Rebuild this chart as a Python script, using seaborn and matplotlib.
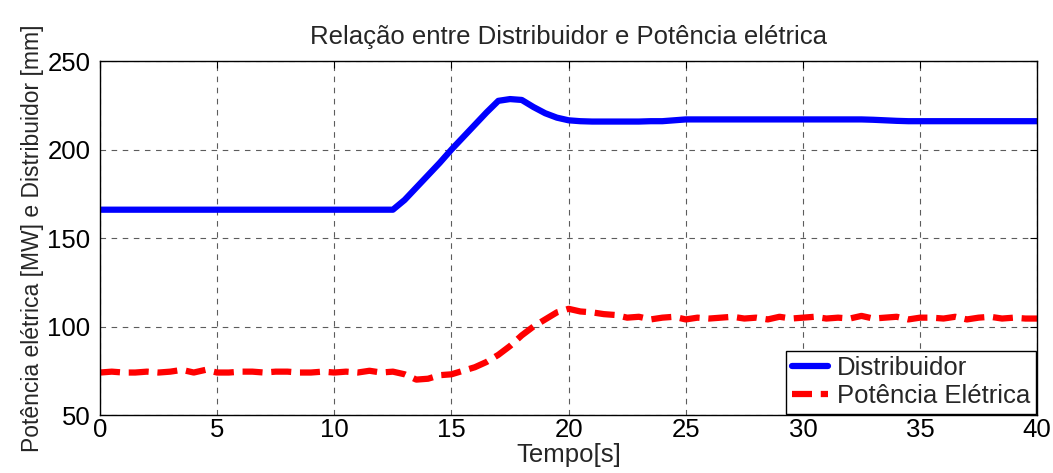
import numpy as np
import pandas as pd
import matplotlib
matplotlib.use("Agg")
import matplotlib.pyplot as plt
import seaborn as sns

# Time axis (s), sampled every 0.5 s
tempo = [i * 0.5 for i in range(81)]

# Guide-vane opening (Distribuidor) [mm]
distribuidor = [
    166, 166, 166, 166, 166, 166, 166, 166, 166, 166,        # 0.0 - 4.5
    166, 166, 166, 166, 166, 166, 166, 166, 166, 166,        # 5.0 - 9.5
    166, 166, 166, 166, 166, 166, 171.5, 178.5, 185.5, 192.5,  # 10.0 - 14.5
    200, 207, 214, 221, 227.5, 228.5, 228, 224, 220.5, 218,  # 15.0 - 19.5
    216.5, 216, 215.8, 215.8, 215.8, 215.8, 215.8, 216, 216, 216.5,  # 20.0 - 24.5
    217, 217, 217, 217, 217, 217, 217, 217, 217, 217,        # 25.0 - 29.5
    217, 217, 217, 217, 217, 217, 216.8, 216.5, 216.2, 216,  # 30.0 - 34.5
    216, 216, 216, 216, 216, 216, 216, 216, 216, 216,        # 35.0 - 39.5
    216,                                                     # 40.0
]

# Electrical power output [MW]
potencia = [
    74, 74.5, 74, 74, 74.5, 74, 74.5, 75.5, 74, 75.5,        # 0.0 - 4.5
    74, 74, 74.5, 74.5, 74, 74.5, 74.5, 74, 74, 74.5,        # 5.0 - 9.5
    74, 74.5, 74, 75, 74, 74.5, 73, 70, 70.5, 72.5,          # 10.0 - 14.5
    73, 75, 77, 80, 84, 89, 95, 100, 104, 108,               # 15.0 - 19.5
    110, 108.5, 108, 107, 106.5, 105, 105.5, 104, 105, 105.5,  # 20.0 - 24.5
    104, 105, 104.5, 105, 105.5, 104.5, 105, 104, 105.5, 104.5,  # 25.0 - 29.5
    105, 105.5, 104.5, 105, 104.5, 106, 104.5, 105, 105.5, 104,  # 30.0 - 34.5
    105, 105, 104.5, 105.5, 104, 105, 105.5, 104.5, 105, 104.5,  # 35.0 - 39.5
    104.5,                                                   # 40.0
]

series_names = ["Distribuidor", "Potência Elétrica"]
x_ticks = [0, 5, 10, 15, 20, 25, 30, 35, 40]
y_ticks = [50, 100, 150, 200, 250]

df = pd.concat([
    pd.DataFrame({"t": tempo, "v": distribuidor, "serie": series_names[0]}),
    pd.DataFrame({"t": tempo, "v": potencia, "serie": series_names[1]}),
])

sns.set_style("white")
plt.rcParams["font.family"] = ["Liberation Sans", "DejaVu Sans"]
FS = 18.5
plt.rcParams["font.size"] = FS

fig = plt.figure(figsize=(10.53, 4.73), dpi=100)
ax = fig.add_axes([0.095, 0.1226, 0.89, 0.7484])

sns.lineplot(
    data=df, x="t", y="v", hue="serie", style="serie",
    palette={series_names[0]: "#0000ff", series_names[1]: "#ff0000"},
    dashes={series_names[0]: "", series_names[1]: (3.2, 1.4)},
    linewidth=4.5, ax=ax, legend=True,
)

ax.set_xlim(0, 40)
ax.set_ylim(50, 250)
ax.set_xticks(x_ticks)
ax.set_yticks(y_ticks)
ax.grid(True, color="#333333", linestyle=(0, (5, 5)), linewidth=0.8, alpha=0.8)
ax.tick_params(direction="in", top=True, right=True, length=5, width=0.8,
               labelsize=FS, colors="black")
ax.tick_params(axis="x", pad=2)
ax.tick_params(axis="y", pad=7)
for s in ax.spines.values():
    s.set_color("black")
    s.set_linewidth(1.0)

ax.set_title("Relação entre Distribuidor e Potência elétrica", fontsize=FS, pad=12)
ax.set_xlabel("Tempo[s]", fontsize=FS, labelpad=1)
ax.set_ylabel("Potência elétrica [MW] e Distribuidor [mm]", fontsize=16.5, labelpad=2)

handles, labels = ax.get_legend_handles_labels()
leg = ax.legend(handles, labels, loc="lower right", fontsize=FS, frameon=True,
                fancybox=False, edgecolor="black", framealpha=1, borderaxespad=0.05,
                handlelength=1.4, handletextpad=0.35, borderpad=0.22, labelspacing=0.15)
leg.get_frame().set_linewidth(1.0)

fig.savefig("out.png", dpi=100)
